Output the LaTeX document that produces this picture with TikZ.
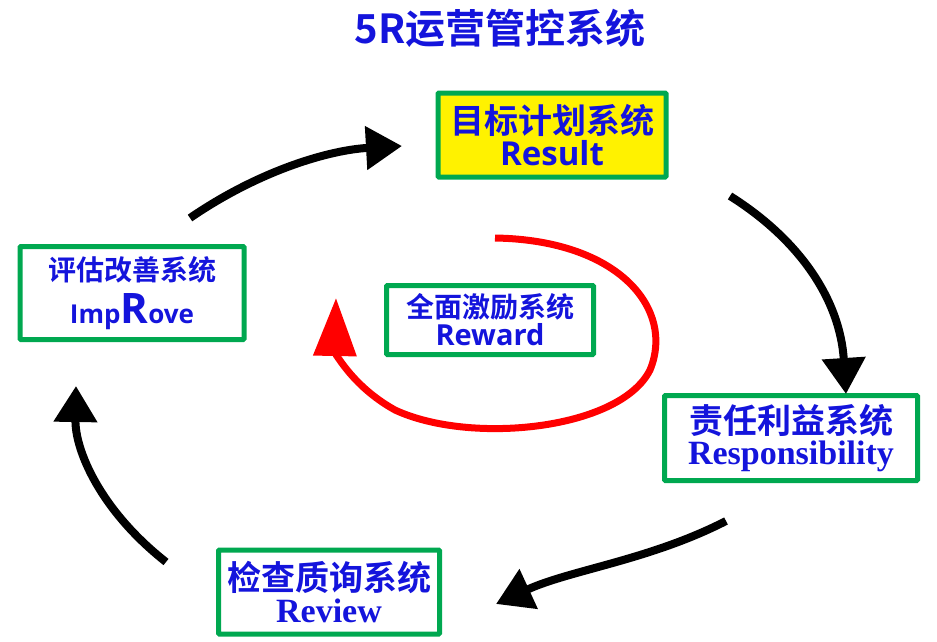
\documentclass[tikz,border=0pt]{standalone}
\usepackage{fontspec}
\setmainfont{Liberation Serif}
\newfontfamily\cjk{Noto Sans CJK SC}[BoldFont={* Bold}]
\newfontfamily\lsans{Open Sans}[BoldFont={* Bold}]
\usetikzlibrary{arrows.meta,positioning}
\definecolor{boxgreen}{RGB}{0,168,80}
\definecolor{txtblue}{RGB}{20,20,220}
\tikzset{
	sys/.style={draw=boxgreen, line width=5pt, fill=white, align=center,
			inner sep=0pt, text=txtblue, font=\bfseries, rounded corners=1pt},
	loop/.style={line width=8pt, -{Triangle[length=36pt,width=42pt]}}
}
\begin{document}
\begin{tikzpicture}[x=1pt,y=-1pt]
    \useasboundingbox (0,0) rectangle (937,642);

    \node [font=\cjk\bfseries\fontsize{40}{42}\selectfont, text=txtblue] (title) at (500,28) {5R运营管控系统};

    \node [sys, fill=yellow, minimum width=228pt, minimum height=84pt] (result) at (552,135)
        {{\cjk\fontsize{34}{40}\selectfont 目标计划系统}\\[2pt]{\lsans\fontsize{33}{42}\selectfont Result}};
    \node [sys, minimum width=224pt, minimum height=93pt] (improve) at (132,293)
        {{\cjk\fontsize{28}{46}\selectfont 评估改善系统}\\[10pt]{\lsans\fontsize{26}{46}\selectfont Imp{\fontsize{42}{44}\selectfont R}ove}};
    \node [sys, minimum width=207pt, minimum height=69pt] (reward) at (490,320)
        {{\cjk\fontsize{28}{34}\selectfont 全面激励系统}\\[2pt]{\lsans\fontsize{29}{36}\selectfont Reward}};
    \node [sys, minimum width=253pt, minimum height=85pt] (resp) at (791,438)
        {{\cjk\fontsize{34}{40}\selectfont 责任利益系统}\\[4pt]{\fontsize{34}{44}\selectfont Responsibility}};
    \node [sys, minimum width=221pt, minimum height=84pt] (review) at (329,592)
        {{\cjk\fontsize{34}{40}\selectfont 检查质询系统}\\[4pt]{\fontsize{34}{44}\selectfont Review}};

    % outer cycle
    \coordinate (a1) at (190,218);
    \coordinate (a2) at (402,146);
    \coordinate (b1) at (730,196);
    \coordinate (b2) at (846,394);
    \coordinate (c1) at (726,521);
    \coordinate (c2) at (496,604);
    \coordinate (d1) at (166,562);
    \coordinate (d2) at (76,386);
    \draw [loop] (a1) .. controls (260,170) and (330,150) .. (a2);
    \draw [loop] (b1) .. controls (800,240) and (840,300) .. (b2);
    \draw [loop] (c1) .. controls (650,560) and (570,570) .. (c2);
    \draw [loop] (d1) .. controls (100,510) and (75,450) .. (d2);

    % inner loop
    \coordinate (r1) at (495,238);
    \coordinate (r2) at (336,298);
    \draw [red, line width=7pt, -{Triangle[length=58pt,width=42pt]}]
        (r1) .. controls (620,240) and (675,310) .. (650,370)
        .. controls (620,430) and (470,445) .. (395,410)
        .. controls (350,385) and (335,350) .. (r2);
\end{tikzpicture}
\end{document}
